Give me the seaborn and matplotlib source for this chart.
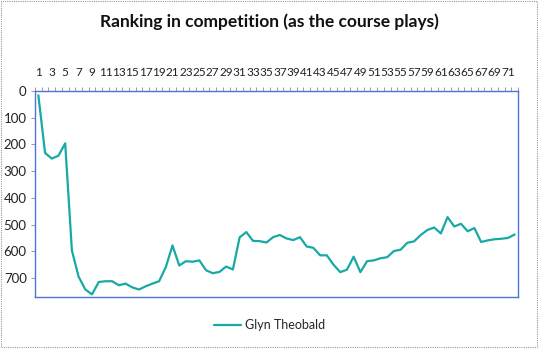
import matplotlib
matplotlib.use("Agg")
import matplotlib.pyplot as plt
import seaborn as sns
import numpy as np
import pandas as pd

title = "Ranking in competition (as the course plays)"
series_name = "Glyn Theobald"
holes = list(range(1, 73))
ranking = [16, 232, 253, 242, 196, 597, 695, 743, 761, 715,
           712, 712, 727, 721, 735, 743, 731, 721, 712, 659,
           578, 653, 637, 639, 634, 671, 682, 677, 657, 668,
           548, 528, 561, 562, 567, 547, 539, 552, 558, 547,
           582, 587, 615, 615, 650, 678, 669, 620, 678, 637,
           634, 626, 622, 599, 594, 568, 563, 539, 520, 511,
           533, 472, 507, 497, 525, 513, 565, 559, 555, 553,
           550, 537]
y_ticks = [0, 100, 200, 300, 400, 500, 600, 700]

sns.set_theme(style="white")
plt.rcParams['font.family'] = ['Lato', 'DejaVu Sans']

df = pd.DataFrame({"pos": np.arange(len(holes)), "rank": ranking, "who": series_name})

fig = plt.figure(figsize=(5.39, 3.48), dpi=100)
ax = fig.add_axes([35/539, 1-297/348, (518-35)/539, (297-91)/348])

sns.lineplot(data=df, x="pos", y="rank", hue="who", palette=["#17aaa5"],
             linewidth=1.6, ax=ax, legend=False)

ax.set_xlim(-0.5, len(holes) - 0.5)
ax.set_ylim(771, 0)
ax.xaxis.tick_top()
odd_pos = [i for i, h in enumerate(holes) if h % 2 == 1]
ax.set_xticks(odd_pos)
ax.set_xticklabels([str(holes[i]) for i in odd_pos], fontsize=8.5, color="#222222")
ax.set_xticks(np.arange(-0.5, len(holes), 1), minor=True)
ax.tick_params(axis="x", which="major", length=0, pad=9)
ax.tick_params(axis="x", which="minor", top=True, length=3, width=0.6, color="#8a8a8a")
ax.set_yticks(y_ticks)
ax.set_yticklabels([str(v) for v in y_ticks], fontsize=9.5, color="#222222")
ax.tick_params(axis="y", left=True, length=3, width=0.6, color="#8a8a8a", pad=3)
ax.set_xlabel("")
ax.set_ylabel("")
for s in ax.spines.values():
    s.set_color("#4f74d6")
    s.set_linewidth(1.0)

fig.text(0.5, 1-22/348, title, ha="center", va="center", fontsize=12.5, fontweight="bold", color="#111111")

from matplotlib.lines import Line2D
h = [Line2D([0], [0], color="#17aaa5", linewidth=1.6)]
fig.legend(h, [series_name], loc="center", bbox_to_anchor=(0.5, 1-325/348), frameon=False,
           fontsize=9, handlelength=2.2, handletextpad=0.3)

border = plt.Rectangle((0.002, 0.003), 0.995, 0.994, transform=fig.transFigure, fill=False,
                       edgecolor="#9a9a9a", linewidth=0.8, linestyle=(0, (1, 1)))
fig.add_artist(border)

fig.savefig("out.png", dpi=100)
